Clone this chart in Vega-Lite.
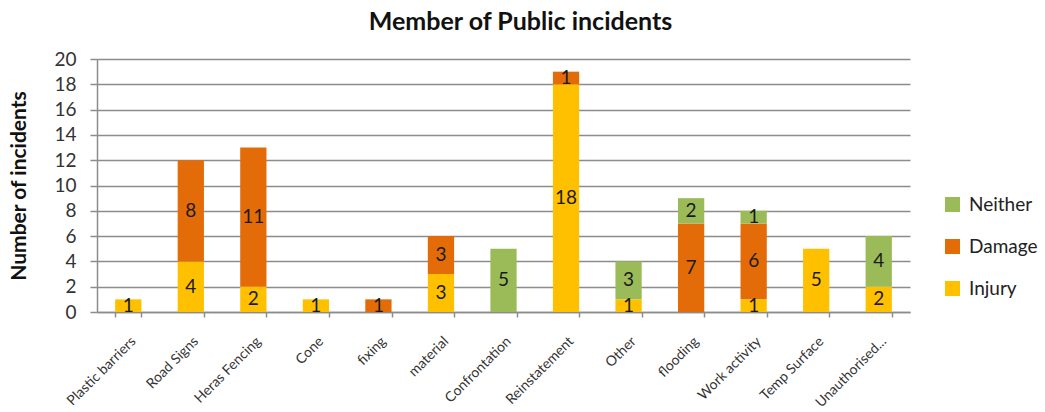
{
  "$schema": "https://vega.github.io/schema/vega-lite/v6.json",
  "width": 813,
  "height": 253,
  "autosize": "none",
  "padding": {"left": 97, "top": 59, "right": 135, "bottom": 100},
  "background": "white",
  "config": {"font": "Lato", "view": {"stroke": null}},
  "title": {"text": "Member of Public incidents", "fontSize": 25, "fontWeight": "bold", "color": "#111", "anchor": "middle", "dx": 17, "offset": 15},
  "data": {"values": [
    {"cat": "Plastic barriers", "type": "Injury", "n": 1},
    {"cat": "Road Signs", "type": "Injury", "n": 4},
    {"cat": "Road Signs", "type": "Damage", "n": 8},
    {"cat": "Heras Fencing", "type": "Injury", "n": 2},
    {"cat": "Heras Fencing", "type": "Damage", "n": 11},
    {"cat": "Cone", "type": "Injury", "n": 1},
    {"cat": "fixing", "type": "Damage", "n": 1},
    {"cat": "material", "type": "Injury", "n": 3},
    {"cat": "material", "type": "Damage", "n": 3},
    {"cat": "Confrontation", "type": "Neither", "n": 5},
    {"cat": "Reinstatement", "type": "Injury", "n": 18},
    {"cat": "Reinstatement", "type": "Damage", "n": 1},
    {"cat": "Other", "type": "Injury", "n": 1},
    {"cat": "Other", "type": "Neither", "n": 3},
    {"cat": "flooding", "type": "Damage", "n": 7},
    {"cat": "flooding", "type": "Neither", "n": 2},
    {"cat": "Work activity", "type": "Injury", "n": 1},
    {"cat": "Work activity", "type": "Damage", "n": 6},
    {"cat": "Work activity", "type": "Neither", "n": 1},
    {"cat": "Temp Surface", "type": "Injury", "n": 5},
    {"cat": "Unauthorised...", "type": "Injury", "n": 2},
    {"cat": "Unauthorised...", "type": "Neither", "n": 4}
  ]},
  "transform": [
    {"calculate": "indexof(['Injury','Damage','Neither'], datum.type)", "as": "k"}
  ],
  "encoding": {
    "x": {
      "field": "cat", "type": "nominal", "sort": null,
      "scale": {"paddingInner": 0.58, "paddingOuter": 0.29},
      "axis": {
        "title": null, "labelAngle": -45, "labelFontSize": 14, "labelColor": "#333",
        "labelAlign": "right", "labelBaseline": "top", "labelPadding": 17,
        "domainColor": "#8c8c8c", "domainWidth": 1.5,
        "ticks": true, "tickBand": "extent", "tickColor": "#8c8c8c", "tickSize": 5, "tickWidth": 1.5
      }
    }
  },
  "layer": [
    {
      "mark": {"type": "bar"},
      "encoding": {
        "y": {
          "field": "n", "type": "quantitative", "stack": "zero",
          "scale": {"domain": [0, 20]},
          "axis": {
            "title": "Number of incidents", "titleFontSize": 21, "titleFontWeight": "bold", "titleColor": "#111", "titlePadding": 24,
            "values": [0,2,4,6,8,10,12,14,16,18,20], "labelOverlap": false, "labelFontSize": 19, "labelColor": "#333", "labelPadding": 14,
            "domain": true, "domainColor": "#8c8c8c", "domainWidth": 1.5,
            "tickColor": "#8c8c8c", "tickSize": 7, "tickWidth": 1.5,
            "grid": true, "gridColor": "#8c8c8c", "gridWidth": 1.5
          }
        },
        "color": {
          "field": "type", "type": "nominal",
          "scale": {"domain": ["Injury", "Damage", "Neither"], "range": ["#FFC000", "#E36C09", "#9BBB59"]},
          "legend": {
            "title": null, "values": ["Neither", "Damage", "Injury"],
            "orient": "none", "legendX": 846, "legendY": 136,
            "symbolType": "square", "symbolSize": 225, "symbolStrokeWidth": 0, "symbolOpacity": 1,
            "labelFontSize": 19, "labelColor": "#222", "rowPadding": 22, "labelOffset": 7
          }
        },
        "order": {"field": "k", "type": "quantitative"}
      }
    },
    {
      "mark": {"type": "text", "fontSize": 19, "color": "#1a1a1a", "baseline": "middle"},
      "encoding": {
        "y": {
          "field": "n", "type": "quantitative", "stack": "zero", "bandPosition": 0.5,
          "scale": {"domain": [0, 20]},
          "axis": {
            "title": "Number of incidents", "titleFontSize": 21, "titleFontWeight": "bold", "titleColor": "#111", "titlePadding": 24,
            "values": [0,2,4,6,8,10,12,14,16,18,20], "labelOverlap": false, "labelFontSize": 19, "labelColor": "#333", "labelPadding": 14,
            "domain": true, "domainColor": "#8c8c8c", "domainWidth": 1.5,
            "tickColor": "#8c8c8c", "tickSize": 7, "tickWidth": 1.5,
            "grid": true, "gridColor": "#8c8c8c", "gridWidth": 1.5
          }
        },
        "detail": {"field": "type"},
        "order": {"field": "k", "type": "quantitative"},
        "text": {"field": "n", "type": "quantitative"}
      }
    }
  ]
}
